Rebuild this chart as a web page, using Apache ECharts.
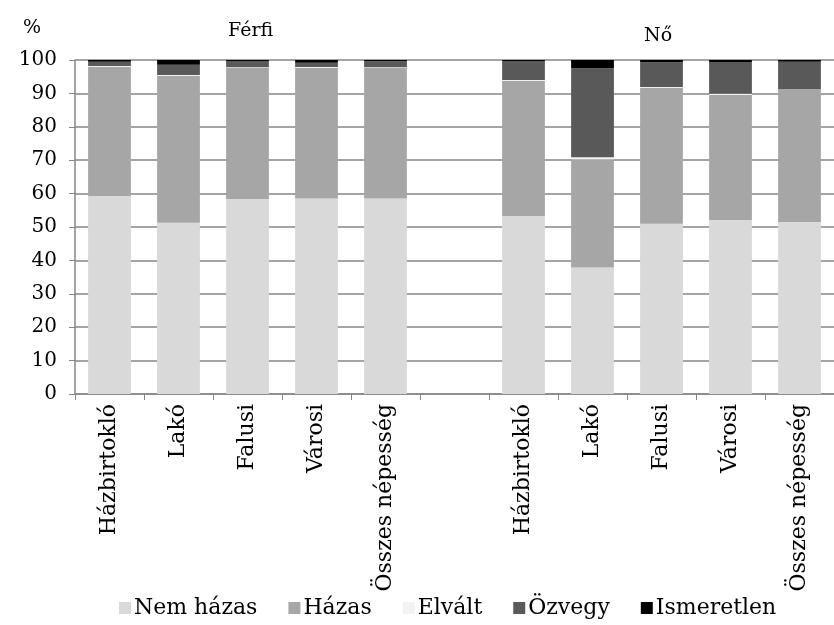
<!DOCTYPE html>
<html>
<head>
<meta charset="utf-8">
<script src="https://cdn.jsdelivr.net/npm/echarts@6/dist/echarts.min.js"></script>
<style>
    html, body { margin: 0; padding: 0; background: #fff; }
    #myChart { width: 834px; height: 625px; }
</style>
</head>
<body>
<div id="myChart"></div>
<script>
    // categories: five groups for men, one empty gap, five for women
    var categories = ['Házbirtokló', 'Lakó', 'Falusi', 'Városi', 'Összes népesség', '',
                      'Házbirtokló', 'Lakó', 'Falusi', 'Városi', 'Összes népesség'];
    var nemHazas   = [59.3, 51.3, 58.4, 58.5, 58.5, null, 53.3, 37.9, 51.0, 52.1, 51.5];
    var hazas      = [38.7, 44.0, 39.2, 39.1, 39.1, null, 40.5, 32.4, 40.7, 37.4, 39.5];
    var elvalt     = [0.2, 0.2, 0.2, 0.3, 0.2, null, 0.2, 0.6, 0.2, 0.4, 0.2];
    var ozvegy     = [1.3, 3.1, 1.9, 1.3, 1.8, null, 5.7, 26.6, 7.4, 9.5, 8.3];
    var ismeretlen = [0.5, 1.4, 0.3, 0.8, 0.4, null, 0.3, 2.5, 0.7, 0.6, 0.5];
    var yTicks = [0, 10, 20, 30, 40, 50, 60, 70, 80, 90, 100];

    var font = '"DejaVu Serif", "Liberation Serif", serif';
    var grey = '#868686';

    var myChart = echarts.init(document.getElementById('myChart'));

    function bar(name, data, color) {
        return {
            name: name,
            type: 'bar',
            stack: 'total',
            barWidth: '62%',
            data: data,
            itemStyle: { color: color },
            emphasis: { disabled: true }
        };
    }

    myChart.setOption({
        animation: false,
        textStyle: { fontFamily: font },
        title: [
            { text: '%', left: 18, top: 14, textStyle: { fontFamily: font, fontSize: 19, fontWeight: 'normal', color: '#000' } },
            { text: 'Férfi', left: 223, top: 17, textStyle: { fontFamily: font, fontSize: 19, fontWeight: 'normal', color: '#000' } },
            { text: 'Nő', left: 639, top: 22, textStyle: { fontFamily: font, fontSize: 19, fontWeight: 'normal', color: '#000' } }
        ],
        legend: {
            bottom: 1,
            left: 114,
            itemWidth: 12,
            itemHeight: 12,
            itemGap: 31,
            icon: 'rect',
            textStyle: { fontFamily: font, fontSize: 22, color: '#000', padding: [0, 0, 0, -2] },
            data: ['Nem házas', 'Házas', 'Elvált', 'Özvegy', 'Ismeretlen']
        },
        grid: {
            left: 75,
            top: 60,
            width: 766,
            height: 334
        },
        xAxis: {
            type: 'category',
            data: categories,
            axisLine: { lineStyle: { color: grey, width: 1.5 } },
            axisTick: { show: true, interval: 0, length: 6, lineStyle: { color: grey } },
            axisLabel: {
                interval: 0,
                rotate: 90,
                margin: 10,
                fontFamily: font,
                fontSize: 22,
                color: '#000'
            }
        },
        yAxis: {
            type: 'value',
            min: yTicks[0],
            max: yTicks[yTicks.length - 1],
            interval: 10,
            axisLine: { show: true, lineStyle: { color: grey, width: 1.5 } },
            axisTick: { show: true, length: 6, lineStyle: { color: grey } },
            splitLine: { lineStyle: { color: grey, width: 1.5 } },
            axisLabel: {
                margin: 18,
                fontFamily: font,
                fontSize: 20,
                color: '#000'
            }
        },
        series: [
            bar('Nem házas', nemHazas, '#d9d9d9'),
            bar('Házas', hazas, '#a6a6a6'),
            bar('Elvált', elvalt, '#f2f2f2'),
            bar('Özvegy', ozvegy, '#595959'),
            bar('Ismeretlen', ismeretlen, '#000000')
        ]
    });
</script>
</body>
</html>
